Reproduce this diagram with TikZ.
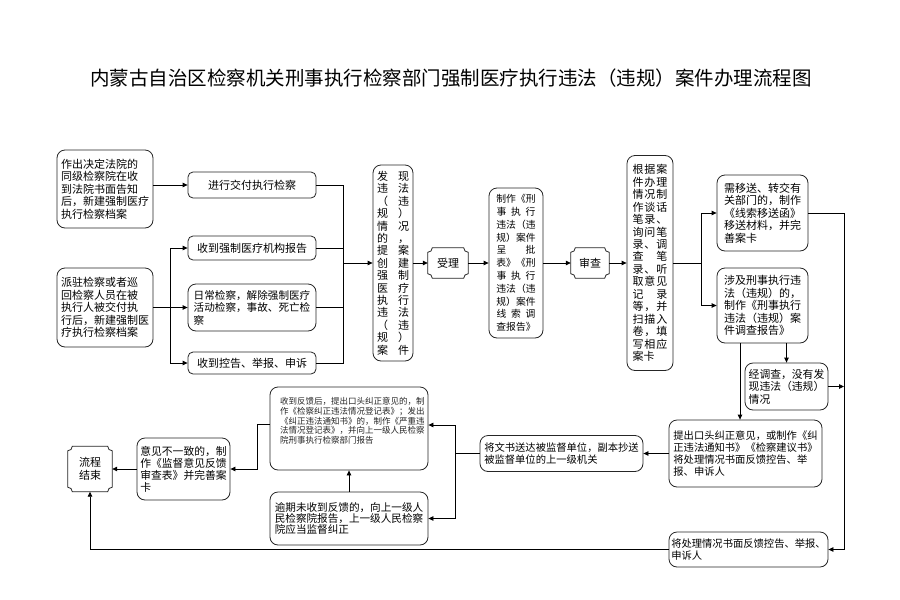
\documentclass[tikz,border=0pt]{standalone}
\usepackage{fontspec}
\setmainfont{Noto Sans CJK SC}
\usetikzlibrary{arrows.meta}
\newcommand\plqr{4.5pt}
\newcommand\plaque[1]{\draw[line width=0.8pt,draw=black!85] ([yshift=-\plqr]#1.north west) arc[start angle=270,end angle=360,radius=\plqr] -- ([xshift=-\plqr]#1.north east) arc[start angle=180,end angle=270,radius=\plqr] -- ([yshift=\plqr]#1.south east) arc[start angle=90,end angle=180,radius=\plqr] -- ([xshift=\plqr]#1.south west) arc[start angle=0,end angle=90,radius=\plqr] -- cycle;}
\newcommand\rw[2]{\makebox[#1]{#2}}
\begin{document}
\begin{tikzpicture}[x=1pt,y=-1pt,
  box/.style={draw=black!85, line width=0.8pt, rounded corners=8pt, inner sep=0pt, align=left, font=\fontsize{11}{12.6}\selectfont},
  sbox/.style={box, rounded corners=5pt},
  plq/.style={inner sep=0pt, align=center, font=\fontsize{11}{12.6}\selectfont},
  arr/.style={draw, line width=0.8pt, -{Triangle[length=5pt,width=4.5pt]}},
  ln/.style={draw, line width=0.8pt}]
\useasboundingbox[fill=white] (0,0) rectangle (900,600);

\node[font=\fontsize{19.5}{21}\selectfont] (title) at (451,78) {内蒙古自治区检察机关刑事执行检察部门强制医疗执行违法（违规）案件办理流程图};

% left column
\node[box, minimum width=96pt, minimum height=78pt] (A) at (105,189) {作出决定法院的\\同级检察院在收\\到法院书面告知\\后，新建强制医疗\\执行检察档案};
\node[box, minimum width=96pt, minimum height=79pt] (F) at (105,307.5) {派驻检察或者巡\\回检察人员在被\\执行人被交付执\\行后，新建强制医\\疗执行检察档案};

\node[sbox, minimum width=128pt, minimum height=26pt, align=center] (B) at (252,185) {进行交付执行检察};
\node[sbox, minimum width=128pt, minimum height=24pt, align=center] (C) at (252,248) {收到强制医疗机构报告};
\node[box, minimum width=128pt, minimum height=47pt, font=\fontsize{10.6}{12.4}\selectfont] (D) at (252,307.5) {日常检察，解除强制医疗\\活动检察，事故、死亡检\\察};
\node[sbox, minimum width=128pt, minimum height=22pt, align=center] (E) at (252,363) {收到控告、举报、申诉};

% vertical boxes
\node[box, align=center, minimum width=40pt, minimum height=196pt, font=\fontsize{11}{12.4}\selectfont] (G) at (393,263) {\rw{32pt}{发\hfill 现}\\\rw{32pt}{违\hfill 法}\\\rw{32pt}{（\hfill 违}\\\rw{32pt}{规\hfill ）}\\\rw{32pt}{情\hfill 况}\\\rw{32pt}{的\hfill ，}\\\rw{32pt}{提\hfill 案}\\\rw{32pt}{创\hfill 建}\\\rw{32pt}{强\hfill 制}\\\rw{32pt}{医\hfill 疗}\\\rw{32pt}{执\hfill 行}\\\rw{32pt}{违\hfill 法}\\\rw{32pt}{（\hfill 违}\\\rw{32pt}{规\hfill ）}\\\rw{32pt}{案\hfill 件}};

\node[plq, minimum width=40pt, minimum height=30pt] (SL) at (448,263) {受理};
\plaque{SL}

\node[box, align=center, minimum width=54pt, minimum height=150pt, font=\fontsize{9.8}{12.8}\selectfont] (H) at (516,263) {\rw{39pt}{制作《刑}\\\rw{39pt}{事\hfill 执\hfill 行}\\\rw{39pt}{违法（违}\\\rw{39pt}{规）案件}\\\rw{39pt}{呈\hfill 批}\\\rw{39pt}{表》《刑}\\\rw{39pt}{事\hfill 执\hfill 行}\\\rw{39pt}{违法（违}\\\rw{39pt}{规）案件}\\\rw{39pt}{线\hfill 索\hfill 调}\\\rw{39pt}{查报告》}};

\node[plq, minimum width=38pt, minimum height=30pt] (SC) at (590,263) {审查};
\plaque{SC}

\node[box, align=center, minimum width=46pt, minimum height=215pt, font=\fontsize{11}{12.45}\selectfont] (I) at (650,263) {\rw{35pt}{根\hfill 据\hfill 案}\\\rw{35pt}{件\hfill 办\hfill 理}\\\rw{35pt}{情\hfill 况\hfill 制}\\\rw{35pt}{作\hfill 谈\hfill 话}\\\rw{35pt}{笔\hfill 录\hfill 、}\\\rw{35pt}{询\hfill 问\hfill 笔}\\\rw{35pt}{录\hfill 、\hfill 调}\\\rw{35pt}{查\hfill 笔}\\\rw{35pt}{录\hfill 、\hfill 听}\\\rw{35pt}{取\hfill 意\hfill 见}\\\rw{35pt}{记\hfill 录}\\\rw{35pt}{等\hfill ，\hfill 并}\\\rw{35pt}{扫\hfill 描\hfill 入}\\\rw{35pt}{卷\hfill ，\hfill 填}\\\rw{35pt}{写\hfill 相\hfill 应}\\\rw{35pt}{案卡\hfill}};

% right column
\node[box, minimum width=91pt, minimum height=76pt] (J) at (762.5,213) {需移送、转交有\\关部门的，制作\\《线索移送函》\\移送材料，并完\\善案卡};
\node[box, minimum width=91pt, minimum height=75pt] (K) at (762.5,305.5) {涉及刑事执行违\\法（违规）的，\\制作《刑事执行\\违法（违规）案\\件调查报告》};
\node[box, minimum width=83pt, minimum height=47pt, font=\fontsize{10.8}{12.4}\selectfont] (L) at (786.5,386.5) {经调查，没有发\\现违法（违规）\\情况};
\node[box, minimum width=153pt, minimum height=67pt, font=\fontsize{10.3}{12.3}\selectfont] (M) at (745.5,453.5) {提出口头纠正意见，或制作《纠\\正违法通知书》《检察建议书》\\将处理情况书面反馈控告、举\\报、申诉人};
\node[box, minimum width=163pt, minimum height=36pt, font=\fontsize{10.3}{11.7}\selectfont] (N) at (561.5,453.5) {将文书送达被监督单位，副本抄送\\被监督单位的上一级机关};
\node[box, minimum width=159pt, minimum height=35pt, font=\fontsize{10.3}{11.7}\selectfont] (S) at (748.5,549.5) {将处理情况书面反馈控告、举报、\\申诉人};

% lower middle
\node[box, minimum width=158pt, minimum height=83pt] (P) at (349,428.5) {};
\node[anchor=north west, inner sep=0pt, align=left, text=black!85, font=\fontsize{8.5}{9.8}\selectfont] (Pt) at (280,397) {收到反馈后，提出口头纠正意见的，制\\作《检察纠正违法情况登记表》；发出\\《纠正违法通知书》的，制作《严重违\\法情况登记表》，并向上一级人民检察\\院刑事执行检察部门报告};
\node[box, minimum width=158pt, minimum height=53pt, font=\fontsize{10.6}{11.4}\selectfont] (Q) at (349,518.5) {逾期未收到反馈的，向上一级人\\民检察院报告，上一级人民检察\\院应当监督纠正};
\node[box, minimum width=93pt, minimum height=62pt, font=\fontsize{10.8}{11.9}\selectfont] (R) at (183.5,469) {意见不一致的，制\\作《监督意见反馈\\审查表》并完善案\\卡};
\node[plq, minimum width=44pt, minimum height=45pt, font=\fontsize{11}{13}\selectfont] (End) at (90,469) {流程\\结束};
\plaque{End}

% connectors
\coordinate (lb) at (170,307.5);
\coordinate (rb) at (343,263);
\coordinate (ib) at (701,263);
\coordinate (rr) at (844,549.5);
\coordinate (nb) at (455,453.5);
\coordinate (pb) at (257,424);

\draw[arr] (A.east |- B.west) -- (B.west);
\draw[ln] (F.east) -- (lb);
\draw[arr] (lb) |- (C.west);
\draw[arr] (lb) |- (E.west);
\draw[arr] (lb) -- (D.west);

\draw[ln] (B.east) -| (rb);
\draw[ln] (E.east) -| (rb);
\draw[ln] (C.east) -- (C.east -| rb);
\draw[ln] (D.east) -- (D.east -| rb);
\draw[arr] (rb) -- (G.west);

\draw[arr] (G.east) -- (SL.west);
\draw[arr] (SL.east) -- (H.west);
\draw[arr] (H.east) -- (SC.west);
\draw[arr] (SC.east) -- (I.west);

\draw[ln] (I.east) -- (ib);
\draw[arr] (ib) |- (J.west);
\draw[arr] (ib) |- (K.west);

\draw[arr] (K.south -| L.north) -- (L.north);
\draw[arr] (J.east) -| (rr) -- (S.east);
\draw[arr] (L.east) -- (L.east -| rr);

\draw[arr] ([xshift=-22.5pt]K.south) -- ([xshift=-22.5pt]K.south |- M.north);
\draw[arr] (M.west) -- (N.east);
\draw[ln] (N.west) -- (nb);
\draw[arr] (nb) |- ([yshift=3.5pt]P.east);
\draw[arr] (nb) |- (Q.east);
\draw[arr] (Q.north) -- (P.south);

\draw[ln] (P.west |- pb) -- (pb);
\draw[arr] (pb) |- (R.east);
\draw[arr] (R.west) -- (End.east);
\draw[arr] (S.west) -| (End.south);
\end{tikzpicture}
\end{document}
